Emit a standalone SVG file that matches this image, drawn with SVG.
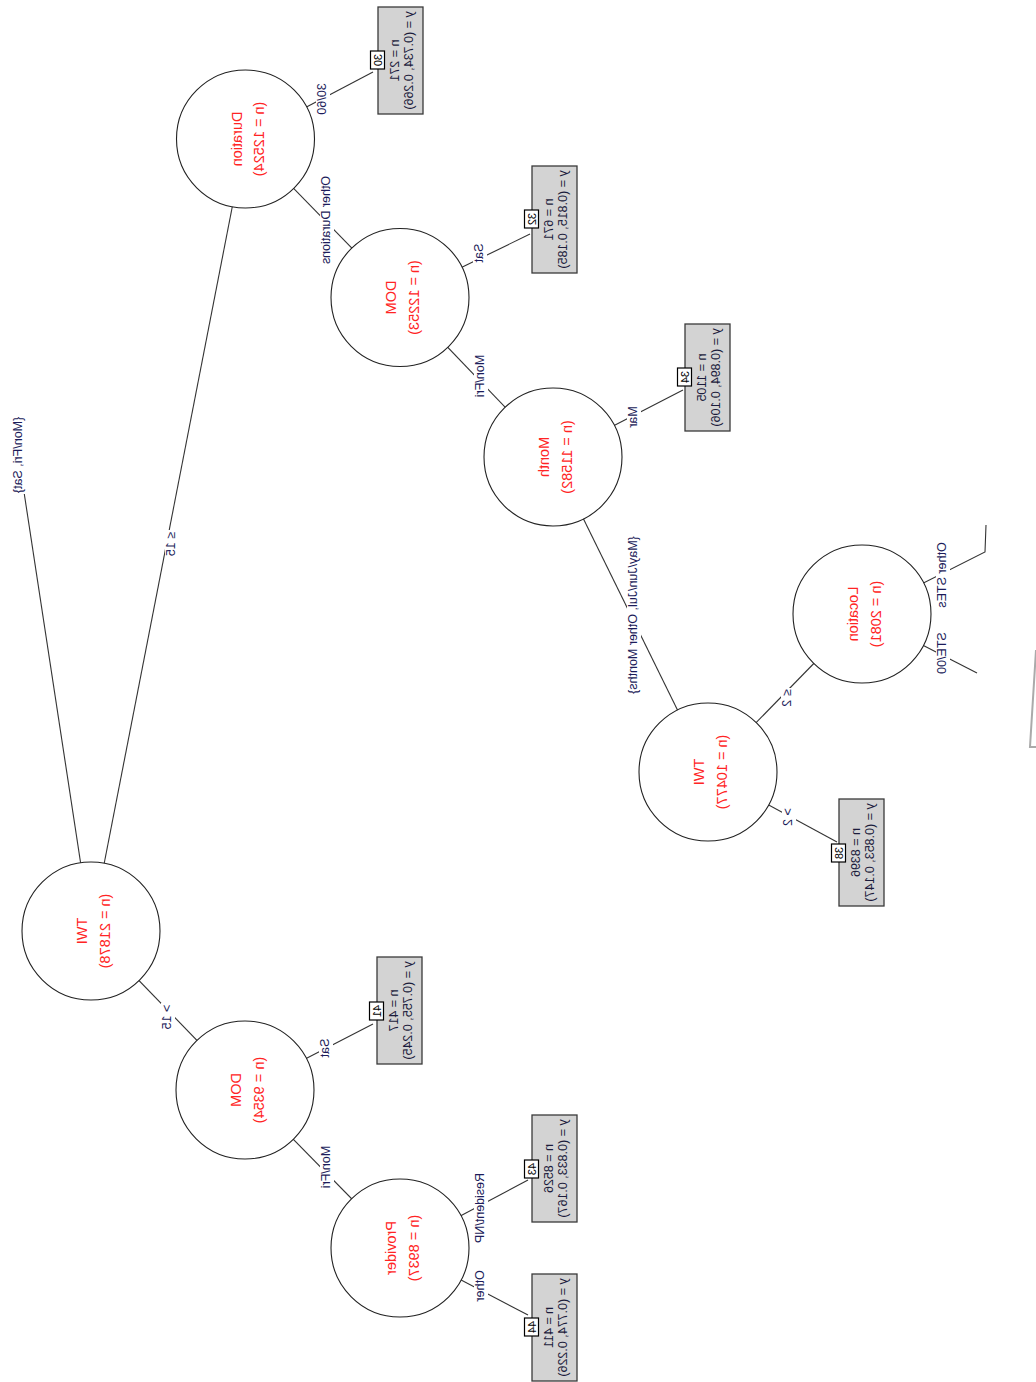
<svg xmlns="http://www.w3.org/2000/svg" width="1036" height="1382" viewBox="0 0 1036 1382">
  <style>
    .edge { stroke: #333; stroke-width: 1.1; fill: none; }
    .labbg { fill: #fff; }
    .elab { font-family: "Liberation Sans", Arial, sans-serif; font-size: 12.5px; fill: #1c1c5a; text-anchor: middle; }
    .inner circle { fill: #fff; stroke: #222; stroke-width: 1.1; }
    .inner text { font-family: "Liberation Sans", Arial, sans-serif; font-size: 14.5px; fill: #ff2424; text-anchor: middle; }
    .leafbox { fill: #d3d3d3; stroke: #3a3a3a; stroke-width: 1.3; }
    .leaftxt { font-family: "Liberation Sans", Arial, sans-serif; font-size: 12.5px; fill: #1c1c3c; text-anchor: middle; }
    .idbox { fill: #fff; stroke: #000; stroke-width: 1.2; }
    .idtxt { font-family: "Liberation Sans", Arial, sans-serif; font-size: 11px; fill: #000; text-anchor: middle; }
  </style>

  <rect width="1036" height="1382" fill="#fff"/>

  <!-- tree is laid out top-down and then transposed onto the page -->
  <g transform="matrix(0 1 1 0 0 0)">

    <g id="connectors">
      <!-- edges -->
      <line class="edge" x1="931" y1="91" x2="492" y2="24"/>
      <line class="edge" x1="931" y1="91" x2="139" y2="245.5"/>
      <line class="edge" x1="931" y1="91" x2="1090" y2="245"/>
      <line class="edge" x1="139" y1="245.5" x2="72" y2="373"/>
      <line class="edge" x1="139" y1="245.5" x2="297.5" y2="400"/>
      <line class="edge" x1="297.5" y1="400" x2="234" y2="530"/>
      <line class="edge" x1="297.5" y1="400" x2="457" y2="553"/>
      <line class="edge" x1="457" y1="553" x2="390" y2="683"/>
      <line class="edge" x1="457" y1="553" x2="772" y2="708"/>
      <line class="edge" x1="772" y1="708" x2="614" y2="862"/>
      <line class="edge" x1="772" y1="708" x2="842" y2="837"/>
      <polyline class="edge" points="614,862 552,985 525,986"/>
      <line class="edge" x1="614" y1="862" x2="673" y2="977"/>
      <line class="edge" x1="1090" y1="245" x2="1024" y2="373"/>
      <line class="edge" x1="1090" y1="245" x2="1248" y2="400"/>
      <line class="edge" x1="1248" y1="400" x2="1180" y2="528"/>
      <line class="edge" x1="1248" y1="400" x2="1315" y2="528"/>

      <!-- edge labels -->
      <rect class="labbg" x="416" y="12" width="78" height="14"/>
      <text class="elab" x="455" y="22">{Mon/Fri, Sat}</text>
      <rect class="labbg" x="530" y="165" width="28" height="14"/>
      <text class="elab" x="544" y="175">≤ 15</text>
      <rect class="labbg" x="1003" y="161" width="28" height="14"/>
      <text class="elab" x="1017" y="171">&gt; 15</text>
      <rect class="labbg" x="82" y="316" width="34" height="14"/>
      <text class="elab" x="99" y="326">30/60</text>
      <rect class="labbg" x="175" y="320" width="90" height="14"/>
      <text class="elab" x="220" y="330">Other Durations</text>
      <rect class="labbg" x="242" y="473" width="22" height="14"/>
      <text class="elab" x="253" y="483">Sat</text>
      <rect class="labbg" x="354" y="474" width="44" height="14"/>
      <text class="elab" x="376" y="484">Mon/Fri</text>
      <rect class="labbg" x="405" y="627" width="24" height="14"/>
      <text class="elab" x="417" y="637">Mar</text>
      <rect class="labbg" x="535" y="627" width="160" height="14"/>
      <text class="elab" x="615" y="637">{May/Jun/Jul, Other Months}</text>
      <rect class="labbg" x="688" y="781" width="20" height="14"/>
      <text class="elab" x="698" y="791">≤ 2</text>
      <rect class="labbg" x="807" y="782" width="20" height="14"/>
      <text class="elab" x="817" y="792">&gt; 2</text>
      <rect class="labbg" x="541" y="936" width="68" height="14"/>
      <text class="elab" x="575" y="946">Other STEs</text>
      <rect class="labbg" x="631" y="936" width="44" height="14"/>
      <text class="elab" x="653" y="946">STE/00</text>
      <rect class="labbg" x="1037" y="319" width="22" height="14"/>
      <text class="elab" x="1048" y="329">Sat</text>
      <rect class="labbg" x="1145" y="320" width="44" height="14"/>
      <text class="elab" x="1167" y="330">Mon/Fri</text>
      <rect class="labbg" x="1172" y="474" width="72" height="14"/>
      <text class="elab" x="1208" y="484">Resident/NP</text>
      <rect class="labbg" x="1270" y="474" width="33" height="14"/>
      <text class="elab" x="1286" y="484">Other</text>
    </g>

    <!-- inner (split) nodes -->
    <g id="node-1" class="inner">
      <circle cx="931" cy="91" r="69"/>
      <text x="931" y="87">TWI</text>
      <text x="931" y="109.5">(n = 21878)</text>
    </g>
    <g id="node-2" class="inner">
      <circle cx="139" cy="245.5" r="69"/>
      <text x="139" y="241.5">Duration</text>
      <text x="139" y="264">(n = 12524)</text>
    </g>
    <g id="node-4" class="inner">
      <circle cx="297.5" cy="400" r="69"/>
      <text x="297.5" y="396">DOM</text>
      <text x="297.5" y="418.5">(n = 12253)</text>
    </g>
    <g id="node-6" class="inner">
      <circle cx="457" cy="553" r="69"/>
      <text x="457" y="549">Month</text>
      <text x="457" y="571.5">(n = 11582)</text>
    </g>
    <g id="node-8" class="inner">
      <circle cx="772" cy="708" r="69"/>
      <text x="772" y="704">TWI</text>
      <text x="772" y="726.5">(n = 10477)</text>
    </g>
    <g id="node-9" class="inner">
      <circle cx="614" cy="862" r="69"/>
      <text x="614" y="858">Location</text>
      <text x="614" y="880.5">(n = 2081)</text>
    </g>
    <g id="node-39" class="inner">
      <circle cx="1090" cy="245" r="69"/>
      <text x="1090" y="241">DOM</text>
      <text x="1090" y="263.5">(n = 9354)</text>
    </g>
    <g id="node-42" class="inner">
      <circle cx="1248" cy="400" r="69"/>
      <text x="1248" y="396">Provider</text>
      <text x="1248" y="418.5">(n = 8937)</text>
    </g>

    <!-- terminal nodes -->
    <g id="node-30">
      <rect class="leafbox" x="7" y="378" width="107" height="45"/>
      <text class="leaftxt" x="60.5" y="399">n = 271</text>
      <text class="leaftxt" x="60.5" y="413">y = (0.734, 0.266)</text>
      <rect class="idbox" x="51" y="370.5" width="18" height="14"/>
      <text class="idtxt" x="60" y="381.5">30</text>
    </g>
    <g id="node-32">
      <rect class="leafbox" x="166" y="532" width="107" height="45"/>
      <text class="leaftxt" x="219.5" y="553">n = 671</text>
      <text class="leaftxt" x="219.5" y="567">y = (0.815, 0.185)</text>
      <rect class="idbox" x="210" y="524.5" width="18" height="14"/>
      <text class="idtxt" x="219" y="535.5">32</text>
    </g>
    <g id="node-34">
      <rect class="leafbox" x="324" y="685" width="107" height="45"/>
      <text class="leaftxt" x="377.5" y="706">n = 1105</text>
      <text class="leaftxt" x="377.5" y="720">y = (0.894, 0.106)</text>
      <rect class="idbox" x="368" y="677.5" width="18" height="14"/>
      <text class="idtxt" x="377" y="688.5">34</text>
    </g>
    <g id="node-38">
      <rect class="leafbox" x="799" y="839" width="107" height="45"/>
      <text class="leaftxt" x="852.5" y="860">n = 8396</text>
      <text class="leaftxt" x="852.5" y="874">y = (0.853, 0.147)</text>
      <rect class="idbox" x="844" y="831.5" width="18" height="14"/>
      <text class="idtxt" x="853" y="842.5">38</text>
    </g>
    <g id="node-41">
      <rect class="leafbox" x="957" y="377" width="107" height="45"/>
      <text class="leaftxt" x="1010.5" y="398">n = 417</text>
      <text class="leaftxt" x="1010.5" y="412">y = (0.755, 0.245)</text>
      <rect class="idbox" x="1002" y="369.5" width="18" height="14"/>
      <text class="idtxt" x="1011" y="380.5">41</text>
    </g>
    <g id="node-43">
      <rect class="leafbox" x="1115" y="532" width="107" height="45"/>
      <text class="leaftxt" x="1168.5" y="553">n = 8526</text>
      <text class="leaftxt" x="1168.5" y="567">y = (0.833, 0.167)</text>
      <rect class="idbox" x="1160" y="524.5" width="18" height="14"/>
      <text class="idtxt" x="1169" y="535.5">43</text>
    </g>
    <g id="node-44">
      <rect class="leafbox" x="1274" y="532" width="107" height="45"/>
      <text class="leaftxt" x="1327.5" y="553">n = 411</text>
      <text class="leaftxt" x="1327.5" y="567">y = (0.774, 0.226)</text>
      <rect class="idbox" x="1318" y="524.5" width="18" height="14"/>
      <text class="idtxt" x="1327" y="535.5">44</text>
    </g>
  </g>

  <!-- sheet edge at the right margin -->
  <polyline points="1036,650 1030,747 1036,747" fill="none" stroke="#aaa" stroke-width="2"/>
</svg>
